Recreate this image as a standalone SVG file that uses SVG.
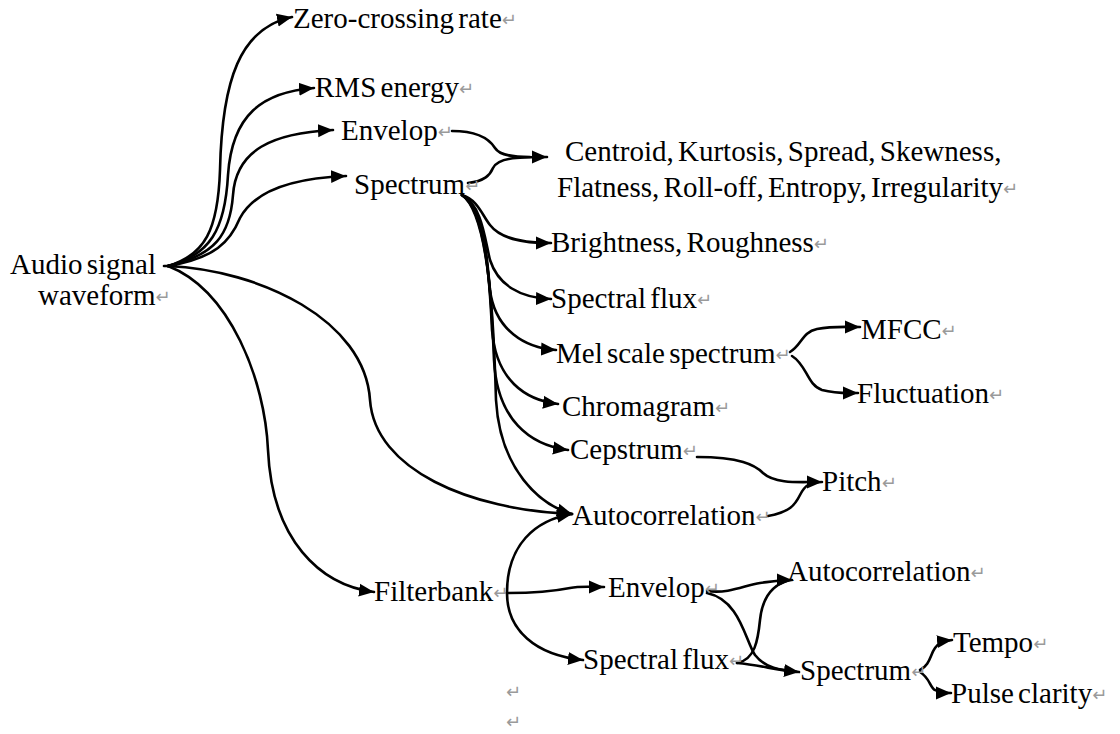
<svg xmlns="http://www.w3.org/2000/svg" width="1120" height="734" viewBox="0 0 1120 734">
  <style>
    .lbl { font-family: "Liberation Serif", "Times New Roman", serif; font-size: 29px; fill: #000; word-spacing: -3px; }
    .ret { font-family: "Noto Sans CJK SC", "DejaVu Sans", sans-serif; font-size: 18px; fill: #9a9a9a; word-spacing: 0; }
    .edge { fill: none; stroke: #000; stroke-width: 2.6; stroke-linecap: round; }
    .arr { marker-end: url(#head); }
  </style>
  <defs>
    <marker id="head" markerUnits="userSpaceOnUse" markerWidth="18" markerHeight="16" refX="15" refY="8" orient="auto">
      <path d="M0,1.5 L15,8 L0,14.5 Z" fill="#000"/>
    </marker>
  </defs>

  <rect width="1120" height="734" fill="#fff"/>

  <!-- connectors -->
  <g id="connectors">
    <!-- source stub -->
    <path class="edge" d="M164,266 L176,266" stroke-width="4.5"/>
    <!-- waveform fan-out -->
    <path class="edge arr" d="M168,266 C205,255 218,230 220,170 C222,80 240,28 292,17"/>
    <path class="edge arr" d="M168,266 C210,255 225,230 228,175 C232,115 262,92 314,88"/>
    <path class="edge arr" d="M168,266 C215,255 230,235 233,195 C236,150 272,133 333,130"/>
    <path class="edge arr" d="M168,266 C215,258 230,242 240,218 C255,190 295,178 346,176"/>
    <path class="edge arr" d="M168,266 C260,270 365,320 370,400 C375,470 470,510 572,514"/>
    <path class="edge arr" d="M168,266 C230,290 265,380 268,450 C272,540 320,585 374,592"/>

    <!-- envelop + spectrum merge to descriptors -->
    <path class="edge" d="M452,131 C480,131 490,140 495,148 C500,156 515,157 530,157"/>
    <path class="edge arr" d="M468,183 C485,181 490,175 493,168 C498,158 515,157 547,157"/>

    <!-- spectrum fan -->
    <path class="edge arr" d="M462,195 C478,200 482,215 490,225 C500,238 520,243 551,243"/>
    <path class="edge arr" d="M462,195 C482,205 485,240 490,260 C498,285 520,298 551,299"/>
    <path class="edge arr" d="M462,195 C485,210 487,260 490,290 C495,330 525,348 556,350"/>
    <path class="edge arr" d="M462,195 C487,210 490,290 492,330 C496,380 525,400 558,404"/>
    <path class="edge arr" d="M462,195 C488,210 492,310 494,360 C497,420 530,445 568,450"/>
    <path class="edge arr" d="M462,195 C490,215 494,330 496,400 C500,470 540,505 572,514"/>

    <!-- mel scale spectrum -->
    <path class="edge arr" d="M790,352 C802,345 802,332 817,329 C832,326 844,327 860,327"/>
    <path class="edge arr" d="M792,356 C807,365 807,385 822,390 C837,394 847,393 858,393"/>

    <!-- pitch -->
    <path class="edge" d="M697,457 C740,457 755,465 763,473 C775,484 800,482 815,482"/>
    <path class="edge arr" d="M768,516 C790,512 795,505 800,495 C805,485 810,482 822,482"/>

    <!-- filterbank -->
    <path class="edge arr" d="M507,593 C507,545 535,520 572,514"/>
    <path class="edge arr" d="M507,593 C507,630 535,655 583,660"/>
    <path class="edge arr" d="M507,593 C540,593 560,590 570,588 C580,586 590,587 604,587"/>

    <!-- envelop / spectral flux cross -->
    <path class="edge arr" d="M707,591 C730,594 745,585 760,583 C775,581 780,580 792,580"/>
    <path class="edge arr" d="M707,593 C740,600 745,640 755,655 C765,668 780,670 799,672"/>
    <path class="edge" d="M737,663 C755,660 758,640 760,620 C762,600 770,585 790,580"/>
    <path class="edge" d="M737,663 C760,665 775,670 797,672"/>

    <!-- spectrum to tempo / pulse clarity -->
    <path class="edge arr" d="M920,670 C930,665 930,655 935,648 C938,643 943,641 952,640"/>
    <path class="edge arr" d="M920,672 C930,678 930,688 935,690 C940,693 943,693 951,693"/>
  </g>

  <!-- nodes -->
  <g id="n-audio"><text class="lbl" x="10" y="274">Audio signal</text><text class="lbl" x="38" y="305">waveform<tspan class="ret" dy="-2">↵</tspan></text></g>
  <g id="n-zcr"><text class="lbl" x="293" y="28">Zero-crossing rate<tspan class="ret" dy="-2">↵</tspan></text></g>
  <g id="n-rms"><text class="lbl" x="315" y="97">RMS energy<tspan class="ret" dy="-2">↵</tspan></text></g>
  <g id="n-envelop"><text class="lbl" x="341" y="140">Envelop<tspan class="ret" dy="-2">↵</tspan></text></g>
  <g id="n-spectrum"><text class="lbl" x="354" y="194">Spectrum<tspan class="ret" dy="-2">↵</tspan></text></g>
  <g id="n-descriptors">
    <text class="lbl" x="565" y="161">Centroid, Kurtosis, Spread, Skewness,</text>
    <text class="lbl" x="557" y="197">Flatness, Roll-off, Entropy, Irregularity<tspan class="ret" dy="-2">↵</tspan></text>
  </g>
  <g id="n-brightness"><text class="lbl" x="551" y="252">Brightness, Roughness<tspan class="ret" dy="-2">↵</tspan></text></g>
  <g id="n-flux"><text class="lbl" x="551" y="308">Spectral flux<tspan class="ret" dy="-2">↵</tspan></text></g>
  <g id="n-mel"><text class="lbl" x="556" y="363">Mel scale spectrum<tspan class="ret" dy="-2">↵</tspan></text></g>
  <g id="n-mfcc"><text class="lbl" x="861" y="339">MFCC<tspan class="ret" dy="-2">↵</tspan></text></g>
  <g id="n-fluct"><text class="lbl" x="857" y="403">Fluctuation<tspan class="ret" dy="-2">↵</tspan></text></g>
  <g id="n-chroma"><text class="lbl" x="562" y="416">Chromagram<tspan class="ret" dy="-2">↵</tspan></text></g>
  <g id="n-cepstrum"><text class="lbl" x="570" y="459">Cepstrum<tspan class="ret" dy="-2">↵</tspan></text></g>
  <g id="n-pitch"><text class="lbl" x="822" y="491">Pitch<tspan class="ret" dy="-2">↵</tspan></text></g>
  <g id="n-autocorr"><text class="lbl" x="572" y="525">Autocorrelation<tspan class="ret" dy="-2">↵</tspan></text></g>
  <g id="n-filterbank"><text class="lbl" x="374" y="601">Filterbank<tspan class="ret" dy="-2">↵</tspan></text></g>
  <g id="n-fb-envelop"><text class="lbl" x="608" y="597">Envelop<tspan class="ret" dy="-2">↵</tspan></text></g>
  <g id="n-fb-autocorr"><text class="lbl" x="787" y="581">Autocorrelation<tspan class="ret" dy="-2">↵</tspan></text></g>
  <g id="n-fb-flux"><text class="lbl" x="583" y="669">Spectral flux<tspan class="ret" dy="-2">↵</tspan></text></g>
  <g id="n-fb-spectrum"><text class="lbl" x="800" y="680">Spectrum<tspan class="ret" dy="-2">↵</tspan></text></g>
  <g id="n-tempo"><text class="lbl" x="953" y="652">Tempo<tspan class="ret" dy="-2">↵</tspan></text></g>
  <g id="n-pulse"><text class="lbl" x="951" y="703">Pulse clarity<tspan class="ret" dy="-2">↵</tspan></text></g>

  <!-- empty paragraph marks -->
  <text class="ret" x="506" y="698">↵</text>
  <text class="ret" x="506" y="728">↵</text>
</svg>
